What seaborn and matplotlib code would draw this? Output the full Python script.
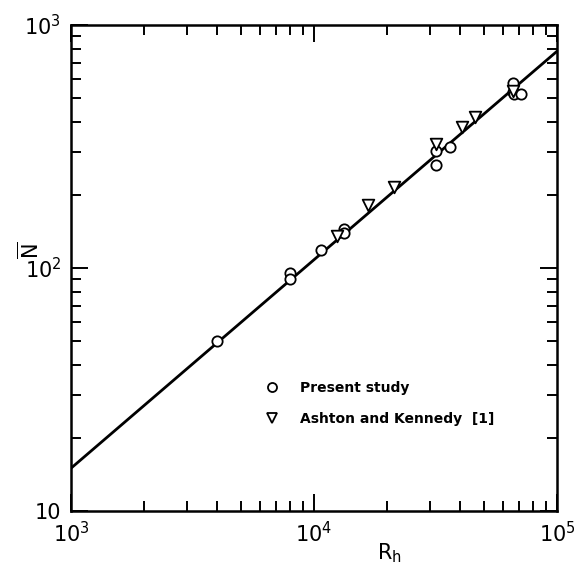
import numpy as np
import pandas as pd
import matplotlib
matplotlib.use("Agg")
import matplotlib.pyplot as plt
import seaborn as sns
from matplotlib.ticker import LogLocator, NullFormatter, FixedLocator, FixedFormatter
from matplotlib.lines import Line2D

# ---- data ----
present_rh = [4000, 7950, 7950, 10700, 13300, 13300, 31800, 31800, 36300, 65900, 65900, 66500, 71100]
present_n = [50, 95, 90, 119, 145, 139, 265, 303, 315, 577, 530, 522, 520]

ashton_rh = [12400, 16700, 21300, 31800, 40600, 46000, 65900]
ashton_n = [136, 182, 215, 325, 380, 418, 535]

fit_rh = [1e3, 1e5]
fit_n = [15.0, 780.0]

x_ticks = [1e3, 1e4, 1e5]
x_ticklabels = ["$10^3$", "$10^4$", "$10^5$"]
y_ticks = [10, 100, 1000]
y_ticklabels = ["10", "$10^2$", "$10^3$"]

sns.set_style("ticks")
plt.rcParams["font.family"] = ["DejaVu Sans"]
plt.rcParams["mathtext.fontset"] = "dejavusans"

fig = plt.figure(figsize=(5.78, 5.69), dpi=100)
ax = fig.add_axes([0.1228, 0.1019, 0.8408, 0.854])

df_fit = pd.DataFrame({"Rh": fit_rh, "N": fit_n})
sns.lineplot(data=df_fit, x="Rh", y="N", ax=ax, color="black", lw=2.0, legend=False)

df_p = pd.DataFrame({"Rh": present_rh, "N": present_n})
df_a = pd.DataFrame({"Rh": ashton_rh, "N": ashton_n})
sns.scatterplot(data=df_p, x="Rh", y="N", ax=ax, marker="o", s=55,
                facecolor="white", edgecolor="black", linewidth=1.3, zorder=3)
sns.scatterplot(data=df_a, x="Rh", y="N", ax=ax, marker="v", s=70,
                facecolor="white", edgecolor="black", linewidth=1.3, zorder=3)

ax.set_xscale("log")
ax.set_yscale("log")
ax.set_xlim(1e3, 1e5)
ax.set_ylim(10, 1e3)

ax.xaxis.set_major_locator(FixedLocator(x_ticks))
ax.xaxis.set_major_formatter(FixedFormatter(x_ticklabels))
ax.yaxis.set_major_locator(FixedLocator(y_ticks))
ax.yaxis.set_major_formatter(FixedFormatter(y_ticklabels))
ax.xaxis.set_minor_locator(LogLocator(base=10, subs=np.arange(2, 10)))
ax.yaxis.set_minor_locator(LogLocator(base=10, subs=np.arange(2, 10)))
ax.xaxis.set_minor_formatter(NullFormatter())
ax.yaxis.set_minor_formatter(NullFormatter())

ax.tick_params(which="both", direction="in", top=True, right=True, color="black",
               labelcolor="black", width=1.4)
ax.tick_params(which="major", length=12, labelsize=15, pad=7)
ax.tick_params(which="minor", length=7)
for sp in ax.spines.values():
    sp.set_linewidth(1.8)
    sp.set_color("black")

ax.set_xlabel(r"R$_\mathrm{h}$", fontsize=15, color="black")
ax.set_ylabel(r"$\overline{\mathrm{N}}$", fontsize=15, rotation=90, color="black")
ax.xaxis.set_label_coords(0.656, -0.062)
ax.yaxis.set_label_coords(-0.058, 0.537)

handles = [
    Line2D([], [], marker="o", ls="none", mfc="white", mec="black", ms=6.5, mew=1.3),
    Line2D([], [], marker="v", ls="none", mfc="white", mec="black", ms=6.5, mew=1.3),
]
leg = ax.legend(handles, ["Present study", "Ashton and Kennedy  [1]"], frameon=False,
                loc="lower left", bbox_to_anchor=(0.36, 0.15), labelspacing=1.2,
                handletextpad=1.0, prop={"size": 10, "weight": "bold"})
for t in leg.get_texts():
    t.set_color("black")

fig.savefig("out.png", dpi=100)
